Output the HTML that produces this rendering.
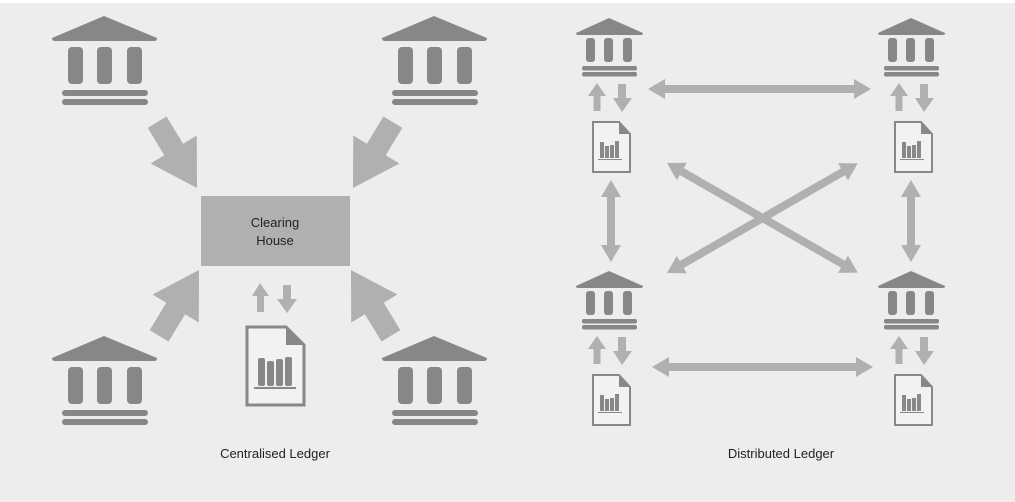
<!DOCTYPE html>
<html><head><meta charset="utf-8"><style>
html,body{margin:0;padding:0;background:#fff}
svg{display:block}
text{font-family:"Liberation Sans","DejaVu Sans",sans-serif;fill:#222}
</style></head><body>
<svg width="1015" height="502" viewBox="0 0 1015 502" xmlns="http://www.w3.org/2000/svg">
<defs>
<g id="bigbank" fill="#878787">
<path d="M52,38 L104,16 L157,38 Q157,41 154,41 L55,41 Q52,41 52,38Z"/>
<rect x="68" y="47" width="15" height="37" rx="4"/>
<rect x="97" y="47" width="15" height="37" rx="4"/>
<rect x="127" y="47" width="15" height="37" rx="4"/>
<rect x="62" y="90" width="86" height="6" rx="3"/>
<rect x="62" y="99" width="86" height="6" rx="3"/>
</g>
<g id="smallbank" fill="#878787">
<path d="M576,33 L609,18 L643,33 Q643,35 641,35 L578,35 Q576,35 576,33Z"/>
<rect x="586" y="38" width="9" height="24" rx="3"/>
<rect x="604" y="38" width="9" height="24" rx="3"/>
<rect x="623" y="38" width="9" height="24" rx="3"/>
<rect x="582" y="66" width="55" height="4.5" rx="2"/>
<rect x="582" y="72" width="55" height="4.5" rx="2"/>
</g>
<g id="updown" fill="#b0b0b0">
<polygon points="597,83 606,96 600.5,96 600.5,111 593.5,111 593.5,96 588,96"/>
<polygon points="622,112 632,98 626,98 626,84 618,84 618,98 613,98"/>
</g>
<g id="smalldoc">
<path d="M593,122 L619,122 L630,134 L630,172 L593,172Z" fill="#f2f2f2" stroke="#888" stroke-width="2"/>
<polygon points="619,122 630,134 619,134" fill="#888"/>
<g fill="#888"><rect x="600" y="142" width="4" height="16"/><rect x="605" y="146" width="4" height="12"/><rect x="610" y="145" width="4" height="13"/><rect x="615" y="141" width="4" height="17"/></g>
<rect x="598" y="159" width="24" height="1" fill="#888"/>
</g>
<polygon id="bigarrow" fill="#b0b0b0" points="-77,-11 -45,-11 -45,-27 0,0 -45,27 -45,11 -77,11"/>
</defs>
<rect x="0" y="3" width="1015" height="499" fill="#ededed"/>

<!-- centralised -->
<use href="#bigbank"/>
<use href="#bigbank" transform="translate(330,0)"/>
<use href="#bigbank" transform="translate(0,320)"/>
<use href="#bigbank" transform="translate(330,320)"/>
<use href="#bigarrow" transform="translate(197,188) rotate(58.8)"/>
<use href="#bigarrow" transform="translate(353,188) rotate(121.2)"/>
<use href="#bigarrow" transform="translate(199,270) rotate(-58.8)"/>
<use href="#bigarrow" transform="translate(351,270) rotate(-121.2)"/>
<rect x="201" y="196" width="149" height="70" fill="#b0b0b0"/>
<text x="275" y="227" font-size="13" text-anchor="middle">Clearing</text>
<text x="275" y="245" font-size="13" text-anchor="middle">House</text>
<g fill="#b0b0b0">
<polygon points="260,283 269,296 264,296 264,312 257,312 257,296 252,296"/>
<polygon points="287,313 297,299 291,299 291,285 283,285 283,299 277,299"/>
</g>
<path d="M247,327 L286,327 L304,345 L304,405 L247,405Z" fill="#f2f2f2" stroke="#888" stroke-width="3"/>
<polygon points="286,327 304,345 286,345" fill="#888"/>
<g fill="#888"><rect x="258" y="358" width="7" height="28" rx="2"/><rect x="267" y="361" width="7" height="25" rx="2"/><rect x="276" y="359" width="7" height="27" rx="2"/><rect x="285" y="357" width="7" height="29" rx="2"/></g>
<rect x="254" y="387" width="42" height="2" fill="#888"/>
<text x="275" y="458" font-size="13" text-anchor="middle">Centralised Ledger</text>

<!-- distributed -->
<g>
<use href="#smallbank"/><use href="#updown"/><use href="#smalldoc"/>
</g>
<g transform="translate(302,0)"><use href="#smallbank"/><use href="#updown"/><use href="#smalldoc"/></g>
<g transform="translate(0,253)"><use href="#smallbank"/><use href="#updown"/><use href="#smalldoc"/></g>
<g transform="translate(302,253)"><use href="#smallbank"/><use href="#updown"/><use href="#smalldoc"/></g>

<g fill="#b0b0b0">
<polygon points="648,89 665,79 665,85 854,85 854,79 871,89 854,99 854,93 665,93 665,99"/>
<polygon points="652,367 669,357 669,363 856,363 856,357 873,367 856,377 856,371 669,371 669,377"/>
<polygon points="611,180 621,197 615,197 615,245 621,245 611,262 601,245 607,245 607,197 601,197"/>
<polygon points="911,180 921,197 915,197 915,245 921,245 911,262 901,245 907,245 907,197 901,197"/>
<polygon transform="translate(667,163) rotate(29.9)" points="0,0 17,-10 17,-4 203,-4 203,-10 220,0 203,10 203,4 17,4 17,10"/>
<polygon transform="translate(667,273) rotate(-29.9)" points="0,0 17,-10 17,-4 203,-4 203,-10 220,0 203,10 203,4 17,4 17,10"/>
</g>
<text x="781" y="458" font-size="13" text-anchor="middle">Distributed Ledger</text>
</svg>
</body></html>
